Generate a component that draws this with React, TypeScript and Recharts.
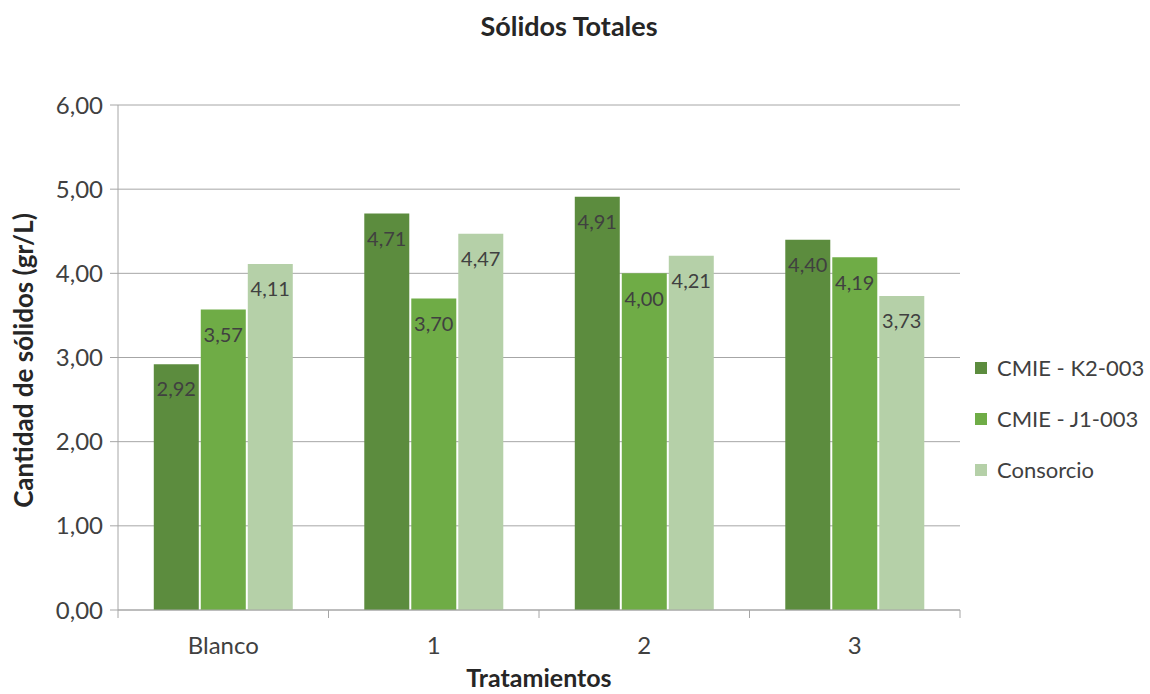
import { Bar, BarChart, CartesianGrid, LabelList, Legend, XAxis, YAxis } from "recharts";

const CATEGORIES = ["Blanco", "1", "2", "3"];
const K2_003 = [2.92, 4.71, 4.91, 4.4];
const J1_003 = [3.57, 3.7, 4.0, 4.19];
const CONSORCIO = [4.11, 4.47, 4.21, 3.73];
const Y_TICKS = [0, 1, 2, 3, 4, 5, 6];

const SERIES = [
  { key: "k2", name: "CMIE - K2-003", color: "#5C8C3E" },
  { key: "j1", name: "CMIE - J1-003", color: "#6FAC46" },
  { key: "cons", name: "Consorcio", color: "#B5D0A8" },
];

const data = CATEGORIES.map((cat, i) => ({
  cat,
  k2: K2_003[i],
  j1: J1_003[i],
  cons: CONSORCIO[i],
}));

const W = 1150;
const H = 694;
const MARGIN = { top: 105, right: 190, bottom: 0, left: 48 };
const Y_AXIS_W = 70;
const X_AXIS_H = 84;
const PLOT_W = W - MARGIN.left - Y_AXIS_W - MARGIN.right;
const AXIS_Y = H - MARGIN.bottom - X_AXIS_H;
const HALF_BAND = PLOT_W / CATEGORIES.length / 2;

const GRID = "#A6A6A6";
const TEXT = "#404040";
const TITLE = "#262626";
const FONT = "Lato, 'Open Sans', sans-serif";

const fmt = (v: number) => v.toFixed(2).replace(".", ",");

// category labels plus tick marks on the band edges (Excel style)
function XTick(props: any) {
  const { x, payload, index } = props;
  const last = index === CATEGORIES.length - 1;
  return (
    <g>
      <line x1={x - HALF_BAND} x2={x - HALF_BAND} y1={AXIS_Y} y2={AXIS_Y + 8} stroke={GRID} />
      {last && (
        <line x1={x + HALF_BAND} x2={x + HALF_BAND} y1={AXIS_Y} y2={AXIS_Y + 8} stroke={GRID} />
      )}
      <text x={x} y={AXIS_Y + 44} textAnchor="middle" fill={TEXT} fontSize={24}>
        {payload.value}
      </text>
    </g>
  );
}

function YTitle(props: any) {
  const { viewBox } = props;
  const cy = viewBox.y + viewBox.height / 2 + 3;
  return (
    <text
      x={33}
      y={cy}
      transform={`rotate(-90, 33, ${cy})`}
      textAnchor="middle"
      fontWeight="bold"
      fontSize={26}
      fill={TITLE}
    >
      Cantidad de sólidos (gr/L)
    </text>
  );
}

function XTitle(props: any) {
  const { viewBox } = props;
  return (
    <text
      x={viewBox.x + viewBox.width / 2}
      y={viewBox.y + 77}
      textAnchor="middle"
      fontWeight="bold"
      fontSize={25}
      fill={TITLE}
    >
      Tratamientos
    </text>
  );
}

function LegendList(props: any) {
  const order = SERIES.map((s) => s.name);
  const items = [...(props.payload ?? [])].sort(
    (a: any, b: any) => order.indexOf(a.value) - order.indexOf(b.value)
  );
  return (
    <ul style={{ listStyle: "none", margin: 0, padding: 0 }}>
      {items.map((entry: any) => (
        <li
          key={entry.value}
          style={{
            display: "flex",
            alignItems: "center",
            height: 51,
            color: TEXT,
            fontSize: 22,
            whiteSpace: "nowrap",
          }}
        >
          <span style={{ width: 12, height: 12, flex: "none", background: entry.color }} />
          <span style={{ marginLeft: 10 }}>{entry.value}</span>
        </li>
      ))}
    </ul>
  );
}

export default function App() {
  return (
    <div style={{ position: "absolute", left: 0, top: 0, width: W, height: H, fontFamily: FONT, background: "#fff" }}>
      <div
        style={{
          position: "absolute",
          left: 0,
          top: 9,
          width: 1138,
          textAlign: "center",
          fontSize: 27,
          lineHeight: "34px",
          fontWeight: "bold",
          color: TITLE,
        }}
      >
        Sólidos Totales
      </div>
      <BarChart width={W} height={H} data={data} margin={MARGIN} barCategoryGap="17%" barGap={2}>
        <CartesianGrid vertical={false} stroke={GRID} />
        <XAxis
          dataKey="cat"
          height={X_AXIS_H}
          axisLine={{ stroke: GRID }}
          tickLine={false}
          tick={<XTick />}
          label={<XTitle />}
        />
        <YAxis
          width={Y_AXIS_W}
          domain={[0, 6]}
          ticks={Y_TICKS}
          tickFormatter={fmt}
          axisLine={{ stroke: GRID }}
          tickLine={{ stroke: GRID }}
          tickSize={8}
          tickMargin={7}
          tick={{ fill: TEXT, fontSize: 24 }}
          label={<YTitle />}
        />
        <Legend
          layout="vertical"
          align="center"
          verticalAlign="middle"
          wrapperStyle={{ left: 975, top: 342, width: 175 }}
          content={<LegendList />}
        />
        {SERIES.map((s) => (
          <Bar key={s.key} dataKey={s.key} name={s.name} fill={s.color} isAnimationActive={false}>
            <LabelList
              dataKey={s.key}
              position="insideTop"
              offset={18}
              fill={TEXT}
              fontSize={20}
              formatter={(v: any) => fmt(Number(v))}
            />
          </Bar>
        ))}
      </BarChart>
    </div>
  );
}
